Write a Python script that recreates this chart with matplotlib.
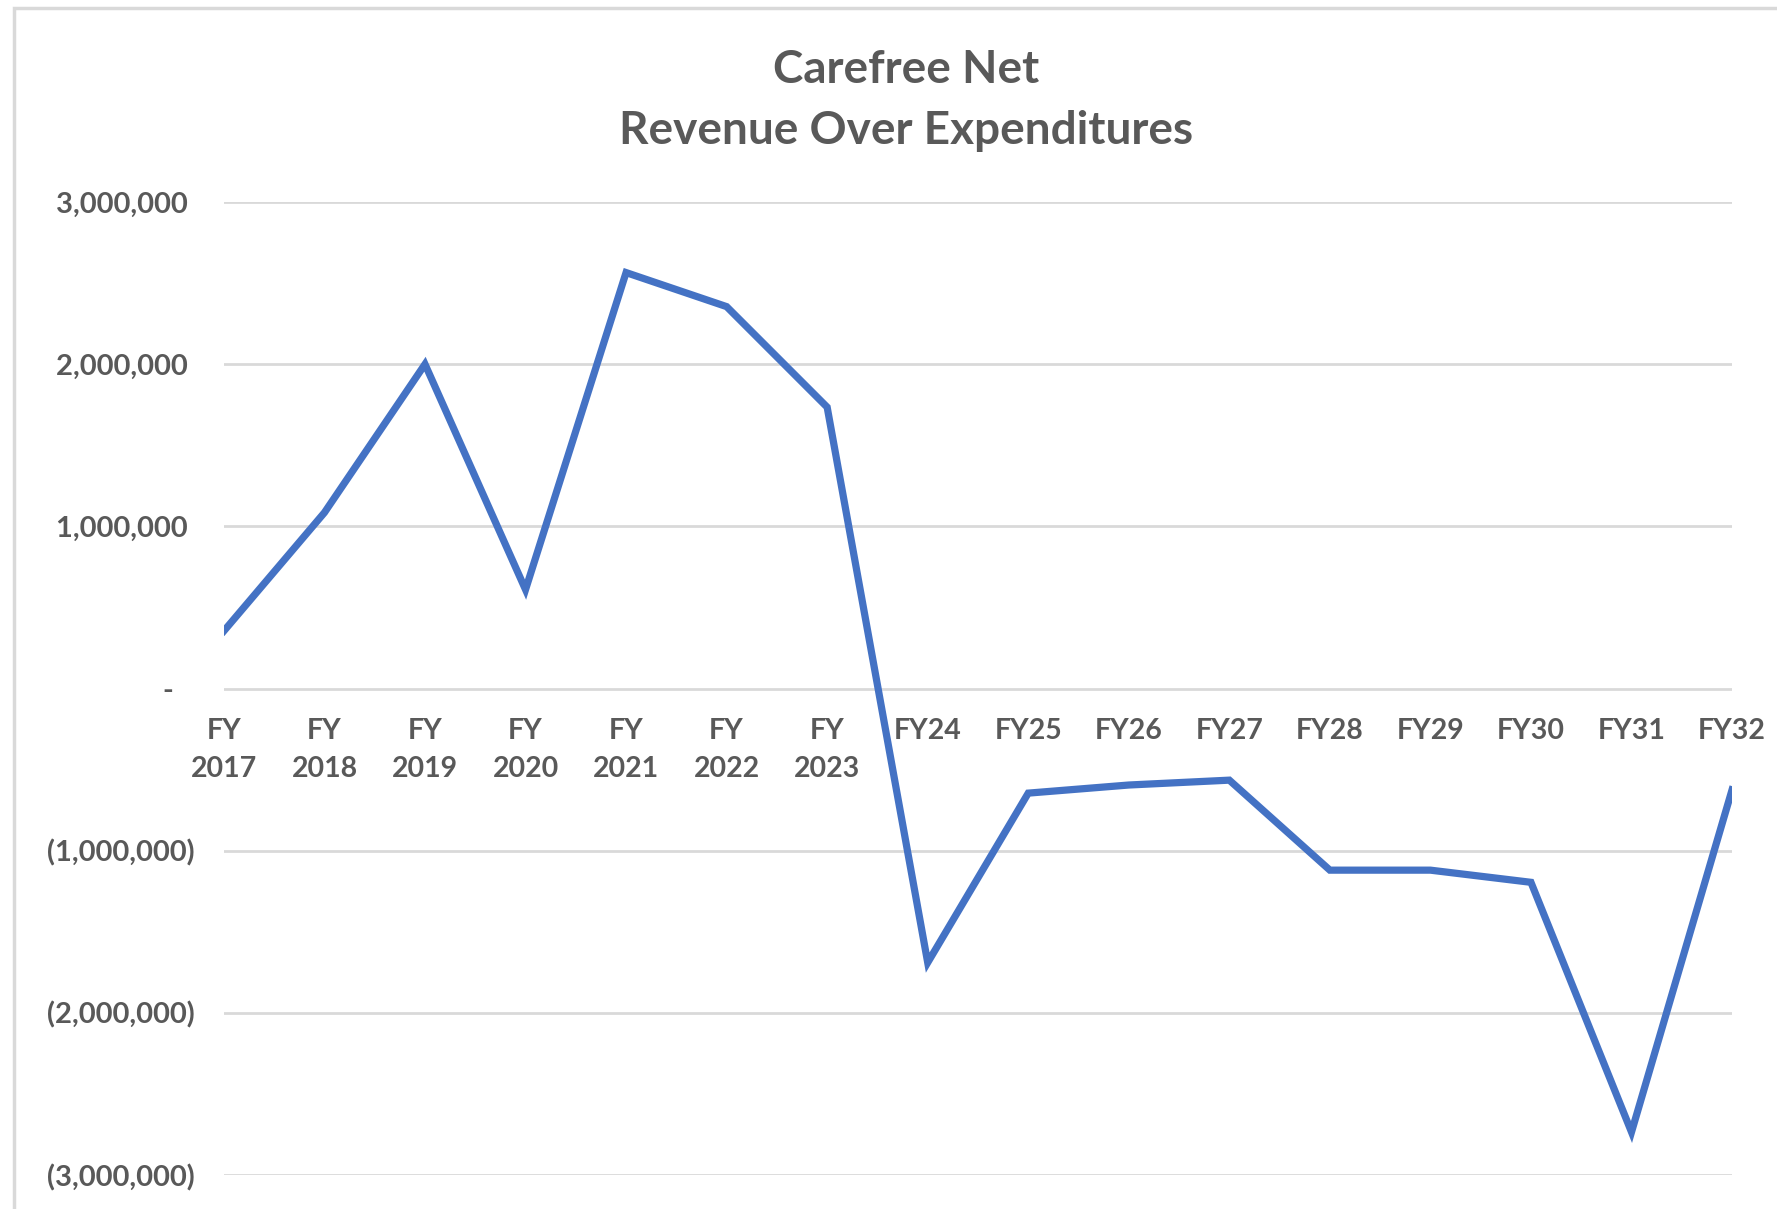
import matplotlib
matplotlib.use("Agg")
import matplotlib.pyplot as plt
from matplotlib.ticker import FuncFormatter
from matplotlib.patches import Rectangle

# data
years = ["FY\n2017", "FY\n2018", "FY\n2019", "FY\n2020", "FY\n2021", "FY\n2022", "FY\n2023",
         "FY24", "FY25", "FY26", "FY27", "FY28", "FY29", "FY30", "FY31", "FY32"]
net = [355000, 1085000, 2000000, 610000, 2565000, 2355000, 1735000,
       -1690000, -645000, -595000, -565000, -1120000, -1120000, -1195000, -2735000, -625000]
y_ticks = [3000000, 2000000, 1000000, 0, -1000000, -2000000, -3000000]

plt.rcParams["font.family"] = ["Lato", "DejaVu Sans"]
plt.rcParams["font.weight"] = "bold"
grey = "#595959"

fig = plt.figure(figsize=(17.77, 12.09), dpi=100)
ax = fig.add_axes([0.126, 0.0281, 0.8487, 0.8048])

x = list(range(len(years)))
ax.plot(x, net, color="#4472C4", linewidth=5.2, solid_joinstyle="miter", zorder=3)

# x axis crosses at zero, so labels sit under the zero line
for s in ["top", "right", "left"]:
    ax.spines[s].set_visible(False)
ax.spines["bottom"].set_position(("data", 0))
ax.spines["bottom"].set_visible(False)

ax.set_xlim(0, len(years) - 1)
ax.set_ylim(-3000000, 3000000)
ax.set_yticks(y_ticks)
ax.grid(axis="y", color="#D9D9D9", linewidth=2)
ax.set_axisbelow(True)


def acct(v, pos):
    if v == 0:
        return "-   "
    if v < 0:
        return f"({-v:,.0f})"
    return f"{v:,.0f} "


ax.yaxis.set_major_formatter(FuncFormatter(acct))
ax.set_xticks(x)
ax.set_xticklabels(years)
ax.tick_params(axis="y", length=0, pad=21, labelsize=21, labelcolor=grey)
ax.tick_params(axis="x", length=0, pad=21, labelsize=20.5, labelcolor=grey)
for t in ax.xaxis.get_major_ticks():
    t.label1.set_linespacing(1.58)

fig.text(0.51, 0.917, "Carefree Net\nRevenue Over Expenditures", ha="center", va="center",
         fontsize=33, fontweight="bold", color=grey, linespacing=1.55)

# chart area border (cropped on the right and bottom)
fig.patches.append(Rectangle((0.008, -0.05), 1.2, 1.043, transform=fig.transFigure,
                             fill=False, edgecolor="#D9D9D9", linewidth=2.5))

fig.savefig("out.png", dpi=100, facecolor="white")
